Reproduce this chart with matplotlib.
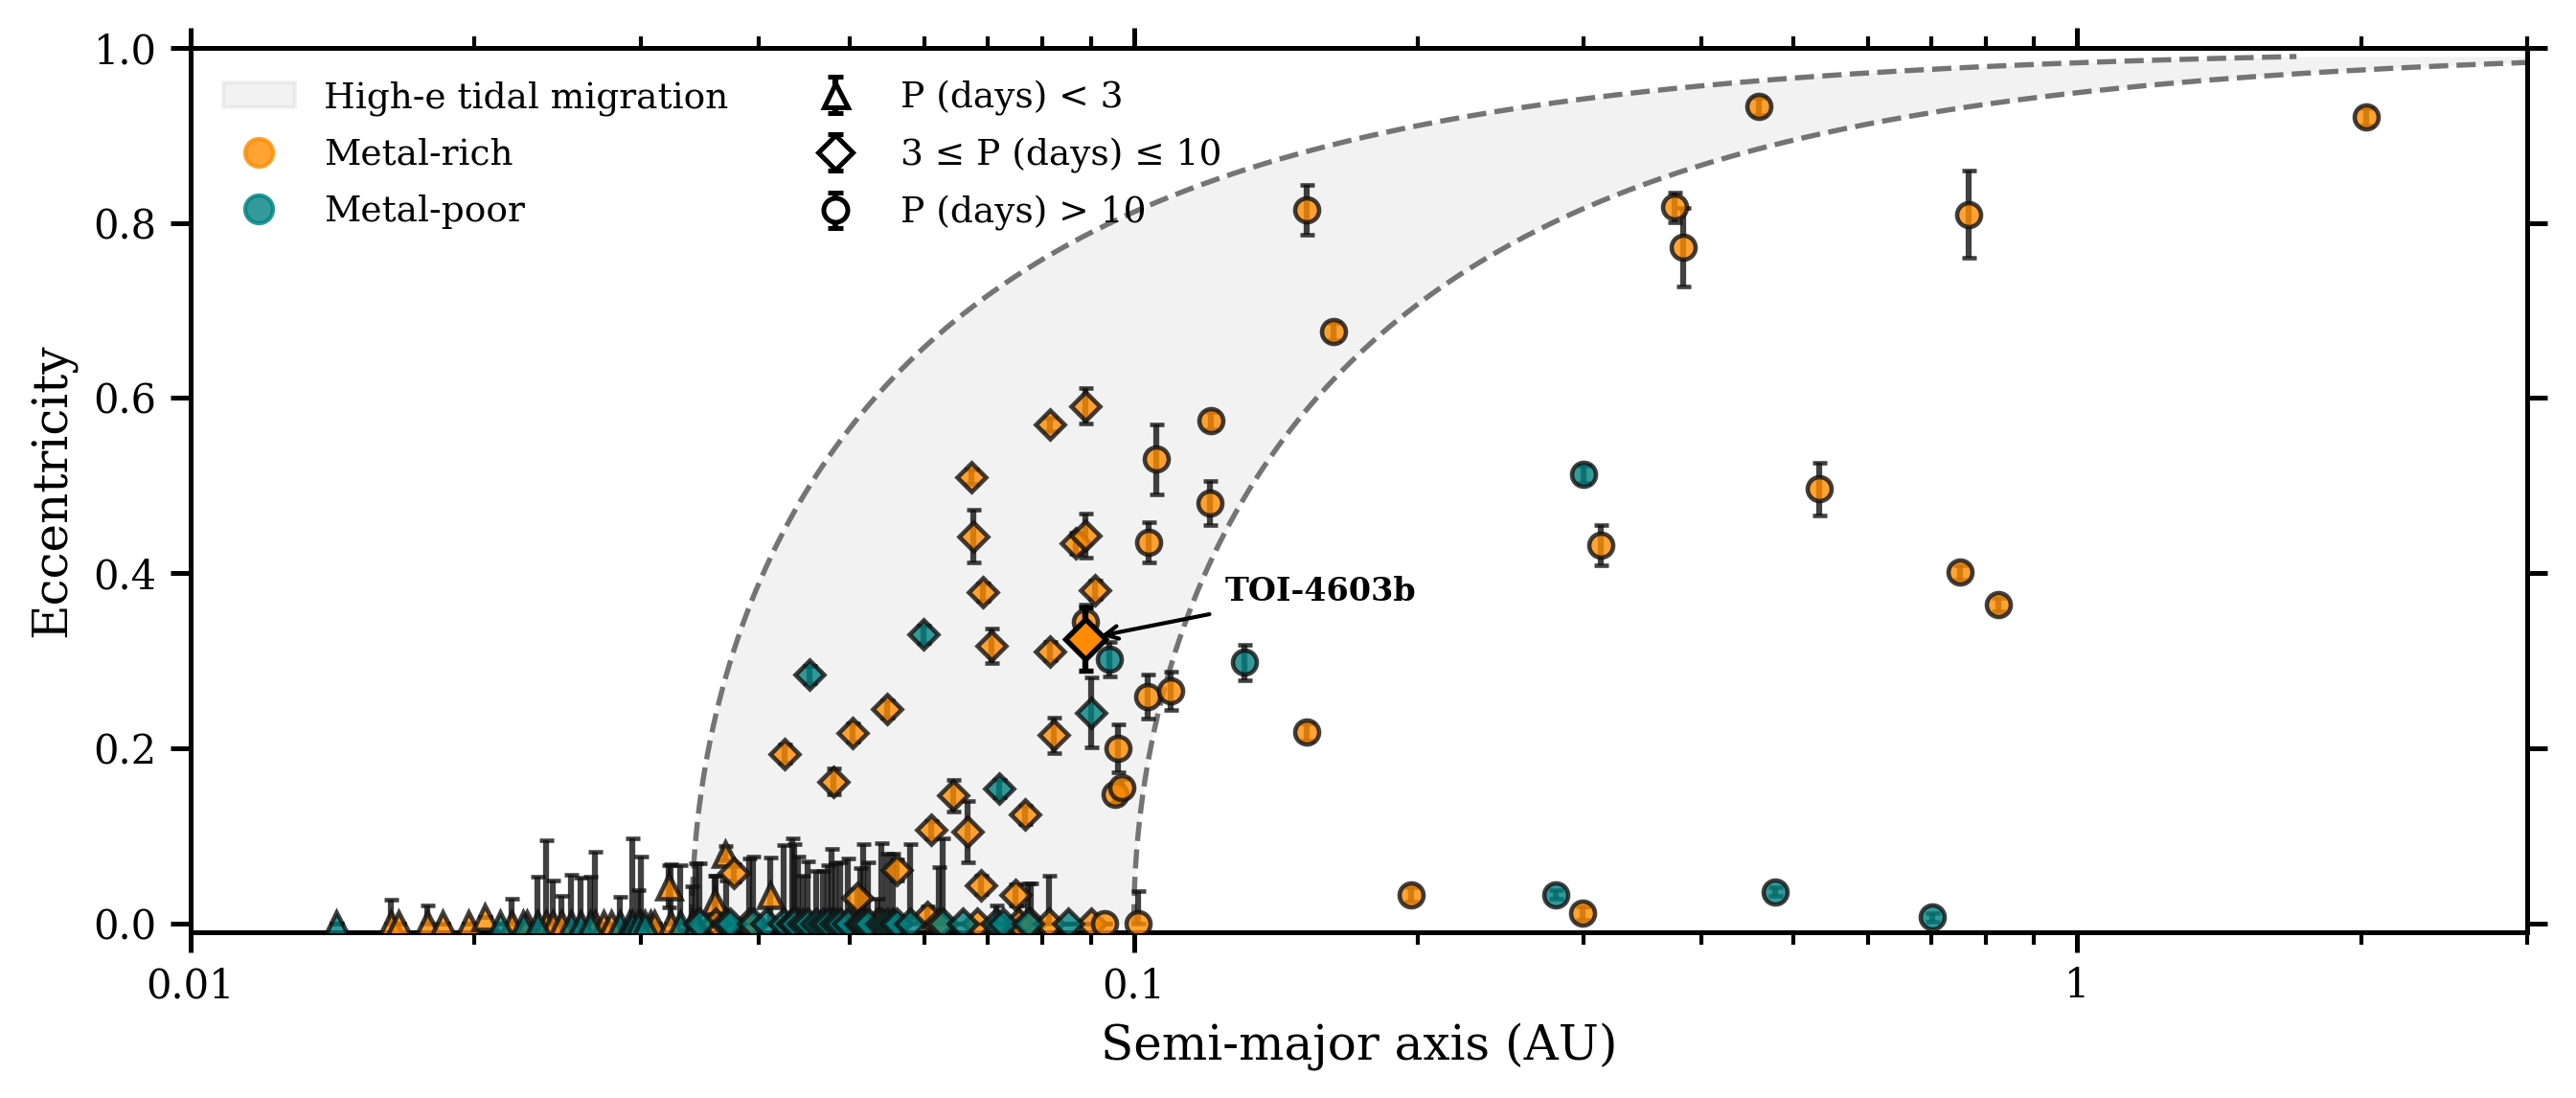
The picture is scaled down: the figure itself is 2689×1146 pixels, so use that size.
import matplotlib
matplotlib.use("Agg")
import matplotlib.pyplot as plt
import numpy as np
from matplotlib.lines import Line2D
from matplotlib.patches import Patch

plt.rcParams["font.family"] = "DejaVu Serif"

RICH = "darkorange"
POOR = "teal"

# semi-major axis (AU), eccentricity, eccentricity error
# P < 3 days
rich_tri_a = [0.0163, 0.0166, 0.0178, 0.0185, 0.0197, 0.0205, 0.0219, 0.0227, 0.0238, 0.0242,
              0.0247, 0.0268, 0.0274, 0.0279, 0.0300, 0.0307, 0.0310, 0.0321, 0.0323, 0.0340,
              0.0359, 0.0369, 0.0412]
rich_tri_e = [0, 0, 0, 0, 0, 0.008, 0, 0, 0, 0,
              0, 0, 0, 0, 0, 0, 0, 0.042, 0, 0,
              0.025, 0.080, 0.033]
rich_tri_err = [0.027, 0, 0.021, 0, 0, 0, 0.028, 0, 0.095, 0.049,
                0.031, 0.082, 0, 0, 0.076, 0, 0, 0.024, 0.068, 0.042,
                0.03, 0.008, 0.042]

poor_tri_a = [0.01426, 0.0213, 0.0225, 0.0233, 0.0253, 0.0259, 0.0265, 0.0285, 0.0292, 0.0294,
              0.0298, 0.0303, 0.0330, 0.0343]
poor_tri_e = [0] * 14
poor_tri_err = [0, 0, 0, 0.053, 0.056, 0.052, 0.053, 0.030, 0, 0.097,
                0.038, 0, 0.066, 0.069]

# 3 <= P <= 10 days
rich_dia_a = [0.0360, 0.0377, 0.0391, 0.0426, 0.0441, 0.0480, 0.0478, 0.0503, 0.0503, 0.0509,
              0.0535, 0.0548, 0.0560, 0.0604, 0.0609, 0.0621, 0.0643, 0.0666, 0.0672, 0.0676,
              0.0682, 0.0688, 0.0692, 0.0706, 0.0749, 0.0754, 0.0767, 0.0778, 0.0812, 0.0815,
              0.0815, 0.0823, 0.0868, 0.0889, 0.0889, 0.0902, 0.0909]
rich_dia_e = [0, 0.058, 0, 0.194, 0, 0.162, 0, 0.218, 0, 0.029,
              0, 0.245, 0.061, 0.008, 0.107, 0, 0.146, 0.105, 0.510, 0.442,
              0, 0.044, 0.378, 0.317, 0.033, 0, 0.124, 0, 0, 0.570,
              0.311, 0.215, 0.434, 0.443, 0.591, 0, 0.381]
rich_dia_err = [0.055, 0.010, 0.074, 0.010, 0.076, 0.015, 0.085, 0.010, 0, 0.010,
                0.028, 0.010, 0.012, 0.012, 0.010, 0.064, 0.018, 0.035, 0.008, 0.030,
                0, 0.010, 0.010, 0.020, 0.012, 0.021, 0.010, 0.046, 0.055, 0.008,
                0.010, 0.020, 0.012, 0.025, 0.020, 0, 0.010]

poor_dia_a = [0.0346, 0.0370, 0.0373, 0.0395, 0.0408, 0.0425, 0.0434, 0.0436, 0.0446, 0.0451,
              0.0453, 0.0460, 0.0468, 0.0474, 0.0482, 0.0488, 0.0498, 0.0513, 0.0517, 0.0523,
              0.0540, 0.0548, 0.0555, 0.0561, 0.0579, 0.0599, 0.0627, 0.0658, 0.0715, 0.0719,
              0.0726, 0.0772, 0.0851, 0.0902]
poor_dia_e = [0, 0, 0, 0, 0, 0, 0, 0, 0, 0,
              0.284, 0, 0, 0, 0, 0, 0, 0, 0, 0,
              0, 0, 0, 0, 0, 0.330, 0, 0, 0, 0.154,
              0, 0, 0, 0.241]
poor_dia_err = [0.069, 0.049, 0, 0.076, 0, 0.089, 0.097, 0.091, 0.054, 0.071,
                0.010, 0.060, 0.060, 0.066, 0.069, 0.070, 0.074, 0.063, 0.091, 0.070,
                0.092, 0.080, 0.080, 0, 0.091, 0.010, 0.097, 0, 0.021, 0.010,
                0, 0.046, 0, 0.040]

# P > 10 days
rich_cir_a = [0.0932, 0.101, 0.0955, 0.0970, 0.0961, 0.1034, 0.1095, 0.0889, 0.1036, 0.1057,
              0.1207, 0.1204, 0.1526, 0.163, 0.1526, 0.197, 0.299, 0.313, 0.374, 0.382,
              0.460, 0.533, 0.751, 0.768, 0.826, 2.025]
rich_cir_e = [0, 0, 0.1475, 0.155, 0.200, 0.259, 0.266, 0.344, 0.435, 0.530,
              0.5745, 0.480, 0.815, 0.676, 0.219, 0.033, 0.012, 0.432, 0.818, 0.772,
              0.933, 0.496, 0.401, 0.810, 0.364, 0.921]
rich_cir_err = [0, 0.037, 0.010, 0.010, 0.027, 0.025, 0.022, 0.020, 0.023, 0.040,
                0.010, 0.025, 0.028, 0.010, 0.010, 0.008, 0.008, 0.023, 0.017, 0.045,
                0.010, 0.030, 0.008, 0.050, 0.008, 0.010]

poor_cir_a = [0.0943, 0.131, 0.280, 0.300, 0.479, 0.703]
poor_cir_e = [0.302, 0.298, 0.033, 0.513, 0.036, 0.007]
poor_cir_err = [0.020, 0.020, 0.005, 0.010, 0.005, 0.005]

toi_a, toi_e, toi_err = 0.0888, 0.325, 0.036

# high-e migration band: final circular orbit a(1-e^2) between these
a_final_in, a_final_out = 0.034, 0.1

fig = plt.figure(figsize=(2689 / 300, 1146 / 300), dpi=300)
ax = fig.add_axes([0.074, 0.151, 0.907, 0.8055])

ecc = np.linspace(0, 0.99, 600)
a_in = a_final_in / (1 - ecc**2)
a_out = a_final_out / (1 - ecc**2)
ax.fill_betweenx(ecc, a_in, a_out, color="gray", alpha=0.1, lw=0)
ax.plot(a_in, ecc, ls="--", color="#747474", lw=1.3)
ax.plot(a_out, ecc, ls="--", color="#747474", lw=1.3)


def draw(a, e, err, marker, color, ms):
    e = np.array(e, dtype=float)
    err = np.array(err, dtype=float)
    lower = np.minimum(err, e)
    ax.errorbar(a, e, yerr=[lower, err], fmt=marker, ms=ms, mfc=color, mec="#111111",
                mew=1.1, ecolor="#111111", elinewidth=1.5, capsize=1.8, capthick=1.5,
                alpha=0.8, zorder=3)


draw(rich_tri_a, rich_tri_e, rich_tri_err, "^", RICH, 6)
draw(poor_tri_a, poor_tri_e, poor_tri_err, "^", POOR, 6)
draw(rich_dia_a, rich_dia_e, rich_dia_err, "D", RICH, 5.2)
draw(poor_dia_a, poor_dia_e, poor_dia_err, "D", POOR, 5.2)
draw(rich_cir_a, rich_cir_e, rich_cir_err, "o", RICH, 6)
draw(poor_cir_a, poor_cir_e, poor_cir_err, "o", POOR, 6)

ax.errorbar([toi_a], [toi_e], yerr=[[toi_err], [toi_err]], fmt="D", ms=7.2, mfc=RICH,
            mec="k", mew=1.3, ecolor="k", elinewidth=1.5, capsize=1.8, capthick=1.5, zorder=5)
ax.annotate("TOI-4603b", xy=(toi_a, toi_e), xytext=(0.125, 0.368), fontsize=8,
            fontweight="bold", arrowprops=dict(arrowstyle="->", color="k", lw=1.0,
                                               shrinkA=2, shrinkB=4))

ax.set_xscale("log")
ax.set_xlim(0.01, 3)
ax.set_ylim(-0.01, 1.0)
ax.set_xticks([0.01, 0.1, 1])
ax.set_xticklabels(["0.01", "0.1", "1"])
ax.set_yticks(np.arange(0, 1.01, 0.2))
ax.set_yticklabels([f"{v:.1f}" for v in np.arange(0, 1.01, 0.2)])
ax.tick_params(which="both", direction="out", top=True, right=True, labelsize=10)
ax.tick_params(which="major", length=5, width=1.2)
ax.tick_params(which="minor", length=3, width=1.0)
for sp in ax.spines.values():
    sp.set_linewidth(1.2)
ax.set_xlabel("Semi-major axis (AU)", fontsize=12)
ax.set_ylabel("Eccentricity", fontsize=12)

handles = [Patch(facecolor="gray", alpha=0.1, edgecolor="gray"),
           Line2D([], [], marker="o", ls="", color=RICH, alpha=0.8, ms=7),
           Line2D([], [], marker="o", ls="", color=POOR, alpha=0.8, ms=7)]
labels = ["High-e tidal migration", "Metal-rich", "Metal-poor"]
for m, lab in [("^", "P (days) < 3"), ("D", "3 ≤ P (days) ≤ 10"), ("o", "P (days) > 10")]:
    h = ax.errorbar([np.nan], [np.nan], yerr=[0.1], fmt=m, ms=6, mfc="white", mec="k",
                    ecolor="k", capsize=2, mew=1.2)
    handles.append(h)
    labels.append(lab)
ax.legend(handles, labels, loc="upper left", ncol=2, frameon=False, fontsize=9,
          columnspacing=2.0, labelspacing=0.62)

fig.savefig("out.png", dpi=300)
